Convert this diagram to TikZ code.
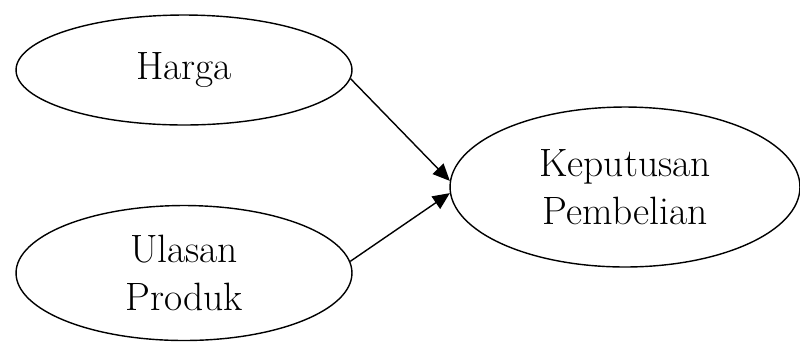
\documentclass[tikz,border=0pt]{standalone}
\usetikzlibrary{arrows.meta, shapes.geometric}

\begin{document}
\begin{tikzpicture}[
    x=0.02cm, y=-0.02cm,
    var/.style={draw, ellipse, line width=0.8pt, inner sep=0pt, align=center,
                font=\fontsize{22.5}{27.5}\selectfont},
    arr/.style={-{Triangle[length=3.4mm, width=3mm]}, line width=0.8pt},
  ]
  \useasboundingbox (0,0) rectangle (800,343);

  \node[var, minimum width=6.72cm, minimum height=2.2cm] (harga) at (184, 70) {Harga};
  \node[var, minimum width=6.72cm, minimum height=2.7cm] (ulasan) at (184, 273) {Ulasan\\Produk};
  \node[var, minimum width=7cm, minimum height=3.2cm] (keputusan) at (625, 187) {Keputusan\\Pembelian};

  \draw[arr] (harga.-3.5) -- (keputusan.178);
  \draw[arr] (ulasan.4) -- (keputusan.182);

\end{tikzpicture}
\end{document}
